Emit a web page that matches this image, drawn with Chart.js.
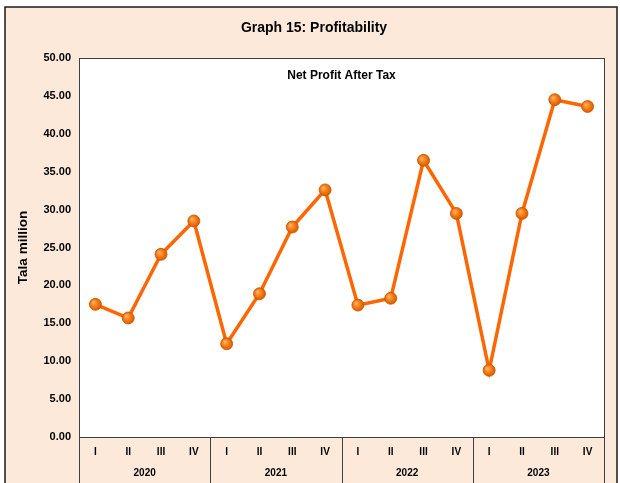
<!DOCTYPE html>
<html>
<head>
<meta charset="utf-8">
<title>Graph 15: Profitability</title>
<script src="https://cdn.jsdelivr.net/npm/chart.js"></script>
<style>
  html, body { margin: 0; padding: 0; background: #fff; }
  canvas { display: block; }
</style>
</head>
<body>
<canvas id="myChart" width="620" height="483"></canvas>
<script>
// data
const years = ["2020", "2021", "2022", "2023"];
const quarters = ["I", "II", "III", "IV"];
const netProfit = [
  17.5, 15.7, 24.1, 28.5,
  12.3, 18.9, 27.7, 32.6,
  17.4, 18.3, 36.5, 29.5,
  8.8, 29.5, 44.5, 43.6
];
const yTicks = [0, 5, 10, 15, 20, 25, 30, 35, 40, 45, 50];

const categories = years.flatMap(function () { return quarters; });

const FONT = "'Liberation Sans', Arial, sans-serif";
const PEACH = "#fde9d9";

// background, frame, plot box, year separators and the two titles
const framePlugin = {
  id: "frame",
  beforeDraw: function (chart) {
    const c = chart.ctx;
    const a = chart.chartArea;
    c.save();
    c.fillStyle = "#ffffff";
    c.fillRect(0, 0, chart.width, chart.height);
    c.fillStyle = PEACH;
    c.fillRect(5, 7, 612, 490);
    c.strokeStyle = "#1a1a1a";
    c.lineWidth = 1.5;
    c.strokeRect(5, 7, 612, 490);
    c.fillStyle = "#ffffff";
    c.fillRect(a.left, a.top, a.right - a.left, a.bottom - a.top);
    c.restore();
  },
  beforeDatasetsDraw: function (chart) {
    const c = chart.ctx;
    const a = chart.chartArea;
    const x = chart.scales.x;
    c.save();
    c.strokeStyle = "#404040";
    c.lineWidth = 1;
    c.strokeRect(Math.round(a.left) + 0.5, Math.round(a.top) + 0.5,
      Math.round(a.right - a.left), Math.round(a.bottom - a.top));

    // year group separators under the axis
    const half = (x.getPixelForValue(1) - x.getPixelForValue(0)) / 2;
    c.beginPath();
    for (let i = 0; i <= years.length; i++) {
      let px;
      if (i < years.length) {
        px = x.getPixelForValue(i * quarters.length) - half;
      } else {
        px = x.getPixelForValue(categories.length - 1) + half;
      }
      px = Math.round(px) + 0.5;
      c.moveTo(px, a.bottom);
      c.lineTo(px, chart.height);
    }
    c.stroke();

    c.fillStyle = "#000000";
    c.textAlign = "center";
    c.textBaseline = "middle";
    c.font = "bold 14px " + FONT;
    c.fillText("Graph 15: Profitability", 314, 28);
    c.font = "bold 12px " + FONT;
    c.fillText("Net Profit After Tax", (a.left + a.right) / 2, 76);
    c.restore();
  }
};

// shaded marker, a bit like the 3D bead in the original
function pointFill(context) {
  const chart = context.chart;
  const xs = chart.scales.x;
  const ys = chart.scales.y;
  if (!xs || !ys || context.parsed === undefined) return "#f77c18";
  const px = xs.getPixelForValue(context.dataIndex);
  const py = ys.getPixelForValue(context.parsed.y);
  if (!isFinite(px) || !isFinite(py)) return "#f77c18";
  const g = chart.ctx.createRadialGradient(px - 2, py - 2, 0.5, px, py, 7);
  g.addColorStop(0, "#ffb066");
  g.addColorStop(0.5, "#f7780f");
  g.addColorStop(1, "#c85400");
  return g;
}

const ctx = document.getElementById("myChart").getContext("2d");
const chart = new Chart(ctx, {
  type: "line",
  data: {
    labels: categories,
    datasets: [
      {
        label: "Net Profit After Tax",
        data: netProfit,
        borderColor: "#ff6600",
        borderWidth: 3.5,
        pointRadius: 6,
        pointBackgroundColor: pointFill,
        pointBorderColor: "#c85400",
        pointBorderWidth: 0.8,
        tension: 0,
        xAxisID: "x",
        yAxisID: "y",
      },
    ],
  },
  options: {
    responsive: false,
    animation: false,
    events: [],
    layout: { padding: { top: 58, right: 16, left: 0, bottom: 0 } },
    plugins: {
      legend: { display: false },
      title: { display: false },
      tooltip: { enabled: false },
    },
    scales: {
      y: {
        min: 0,
        max: 50,
        afterBuildTicks: function (scale) {
          scale.ticks = yTicks.map(function (v) { return { value: v }; });
        },
        afterFit: function (scale) { scale.width = 79; },
        grid: { display: false, drawTicks: false },
        border: { display: false },
        ticks: {
          padding: 8,
          color: "#000",
          font: { family: FONT, size: 11, weight: "bold" },
          callback: function (v) { return Number(v).toFixed(2); },
        },
        title: {
          display: true,
          text: "Tala million",
          color: "#000",
          padding: { top: 15, bottom: 0 },
          font: { family: FONT, size: 13.5, weight: "bold" },
        },
      },
      x: {
        type: "category",
        labels: categories,
        offset: true,
        weight: 0,
        afterFit: function (scale) { scale.height = 24; },
        grid: { display: false, drawTicks: false },
        border: { display: false },
        ticks: {
          padding: 9,
          autoSkip: false,
          maxRotation: 0,
          color: "#000",
          font: { family: FONT, size: 10, weight: "bold" },
        },
      },
      x2: {
        type: "category",
        labels: years,
        position: "bottom",
        offset: true,
        weight: 1,
        afterFit: function (scale) { scale.height = 22; },
        grid: { display: false, drawTicks: false },
        border: { display: false },
        ticks: {
          padding: 6,
          autoSkip: false,
          maxRotation: 0,
          color: "#000",
          font: { family: FONT, size: 10, weight: "bold" },
        },
      },
    },
  },
  plugins: [framePlugin],
});
</script>
</body>
</html>
